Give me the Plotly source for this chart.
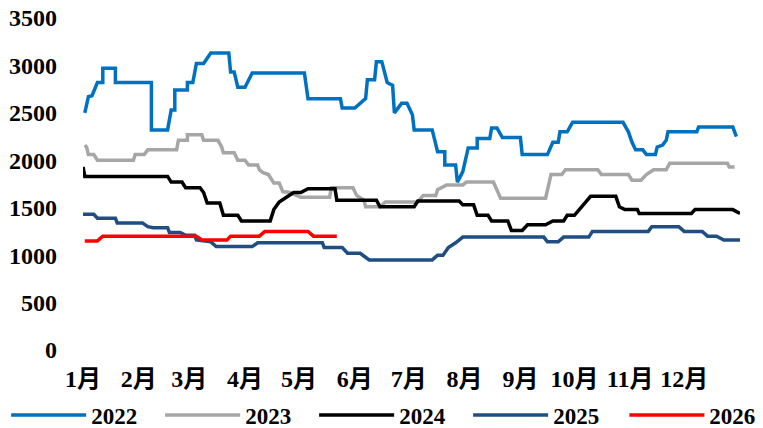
import plotly.graph_objects as go

# x = day of year (0 = 1 Jan), y = price
days_2022 = [1, 3, 5, 8, 11, 11, 18, 18, 38, 38, 47, 49, 51, 51, 58, 58, 61, 63, 67, 71,
             81, 82, 84, 86, 90, 94, 123, 125, 143, 144, 151, 157, 158, 162, 163, 166, 169, 172, 173, 177,
             180, 183, 184, 194, 197, 201, 201, 207, 208, 211, 214, 219, 219, 226, 227, 230, 233, 243, 244, 258,
             261, 264, 265, 269, 272, 300, 303, 305, 307, 311, 313, 318, 319, 322, 324, 325, 341, 342, 361, 363]
vals_2022 = [2500, 2670, 2680, 2820, 2820, 2970, 2970, 2820, 2820, 2320, 2320, 2530, 2530, 2740, 2740, 2820, 2820, 3020, 3020, 3130,
             3130, 2930, 2930, 2770, 2770, 2920, 2920, 2650, 2650, 2550, 2550, 2650, 2850, 2850, 3040, 3040, 2820, 2790, 2500, 2600,
             2600, 2480, 2320, 2320, 2090, 2090, 1950, 1950, 1770, 1880, 2130, 2130, 2230, 2230, 2340, 2340, 2240, 2240, 2060, 2060,
             2190, 2190, 2300, 2300, 2400, 2400, 2300, 2190, 2110, 2110, 2060, 2060, 2140, 2160, 2210, 2300, 2300, 2350, 2350, 2250]

days_2023 = [1, 2, 3, 6, 8, 28, 29, 34, 36, 52, 53, 58, 58, 66, 67, 75, 77, 78, 84, 86,
             90, 92, 97, 98, 100, 103, 106, 109, 111, 115, 121, 137, 138, 150, 152, 156, 157, 165, 168, 186,
             189, 196, 197, 202, 211, 213, 228, 230, 232, 257, 260, 266, 268, 286, 288, 303, 305, 310, 313, 317,
             324, 326, 358, 359, 362]
vals_2023 = [2160, 2140, 2060, 2060, 2000, 2000, 2060, 2060, 2110, 2110, 2210, 2210, 2270, 2270, 2210, 2210, 2140, 2080, 2080, 2000,
             2000, 1950, 1950, 1900, 1870, 1850, 1760, 1760, 1670, 1660, 1610, 1610, 1710, 1710, 1630, 1580, 1510, 1510, 1560, 1560,
             1630, 1630, 1690, 1740, 1740, 1770, 1770, 1690, 1600, 1600, 1850, 1850, 1900, 1900, 1850, 1850, 1790, 1790, 1850, 1900,
             1900, 1970, 1970, 1930, 1930]

days_2024 = [0, 1, 47, 49, 55, 57, 65, 67, 69, 76, 78, 86, 88, 104, 106, 109, 113, 117, 121, 125,
             140, 141, 163, 165, 184, 186, 209, 211, 217, 219, 225, 227, 236, 238, 244, 247, 257, 261, 267, 269,
             273, 282, 296, 298, 301, 308, 309, 338, 340, 361, 365]
vals_2024 = [1930, 1830, 1830, 1770, 1770, 1710, 1710, 1660, 1550, 1550, 1420, 1420, 1360, 1360, 1480, 1560, 1610, 1660, 1660, 1700,
             1700, 1580, 1580, 1510, 1510, 1570, 1570, 1530, 1530, 1420, 1420, 1360, 1360, 1260, 1260, 1320, 1320, 1360, 1360, 1420,
             1420, 1620, 1620, 1510, 1480, 1480, 1440, 1440, 1480, 1480, 1440]

days_2025 = [0, 6, 8, 18, 19, 33, 36, 39, 47, 48, 54, 57, 62, 63, 71, 74, 94, 97, 133, 134,
             144, 147, 154, 159, 194, 197, 200, 203, 207, 211, 256, 258, 264, 267, 281, 283, 314, 316, 331, 334,
             344, 347, 352, 356, 365]
vals_2025 = [1430, 1430, 1390, 1390, 1340, 1340, 1300, 1290, 1290, 1240, 1240, 1210, 1210, 1160, 1140, 1090, 1090, 1130, 1130, 1080,
             1080, 1020, 1020, 950, 950, 1000, 1000, 1080, 1130, 1190, 1190, 1140, 1140, 1190, 1190, 1250, 1250, 1300, 1300, 1250,
             1250, 1200, 1200, 1160, 1160]

days_2026 = [1, 8, 11, 63, 66, 80, 82, 98, 101, 125, 128, 141]
vals_2026 = [1150, 1150, 1200, 1200, 1160, 1160, 1200, 1200, 1250, 1250, 1200, 1200]

month_start = [0, 31, 59, 90, 120, 151, 181, 212, 243, 273, 304, 334]
month_labels = ["1月", "2月", "3月", "4月", "5月", "6月", "7月", "8月", "9月", "10月", "11月", "12月"]

series = [
    ("2022", days_2022, vals_2022, "#0070C0", "legend"),
    ("2023", days_2023, vals_2023, "#A6A6A6", "legend"),
    ("2024", days_2024, vals_2024, "#000000", "legend"),
    ("2025", days_2025, vals_2025, "#1F4E82", "legend"),
    ("2026", days_2026, vals_2026, "#FF0000", "legend2"),
]

FONT = "Times New Roman, Liberation Serif, Noto Sans CJK SC, serif"
LEG_FONT = dict(family=FONT, size=23, color="black", weight="bold")

fig = go.Figure()
for name, d, v, c, leg in series:
    fig.add_trace(go.Scatter(x=d, y=v, name=name, mode="lines", legend=leg,
                             line=dict(color=c, width=3.5)))

# page body has an 8px margin, so the figure is 8px smaller than the window
fig.update_layout(
    width=755, height=420,
    margin=dict(l=75, r=23, t=10, b=78, autoexpand=False),
    paper_bgcolor="white", plot_bgcolor="white",
    font=dict(family=FONT, size=24, color="black", weight="bold"),
    showlegend=True,
    legend=dict(orientation="h", x=-0.117, xanchor="left", y=-0.196, yanchor="middle",
                entrywidth=64, entrywidthmode="pixels", itemwidth=75,
                bgcolor="rgba(0,0,0,0)", borderwidth=0, font=LEG_FONT),
    legend2=dict(orientation="h", x=0.824, xanchor="left", y=-0.196, yanchor="middle",
                 itemwidth=75, bgcolor="rgba(0,0,0,0)", borderwidth=0, font=LEG_FONT),
)
fig.update_xaxes(range=[0, 365], tickvals=month_start, ticktext=month_labels,
                 showgrid=False, zeroline=False, showline=False, ticks="",
                 ticklabelstandoff=12, ticklabeloverflow="allow")
fig.update_yaxes(range=[0, 3500], dtick=500, showgrid=False, zeroline=False,
                 showline=False, ticks="", ticklabelstandoff=25, ticklabeloverflow="allow")

fig.write_html("out.html")
